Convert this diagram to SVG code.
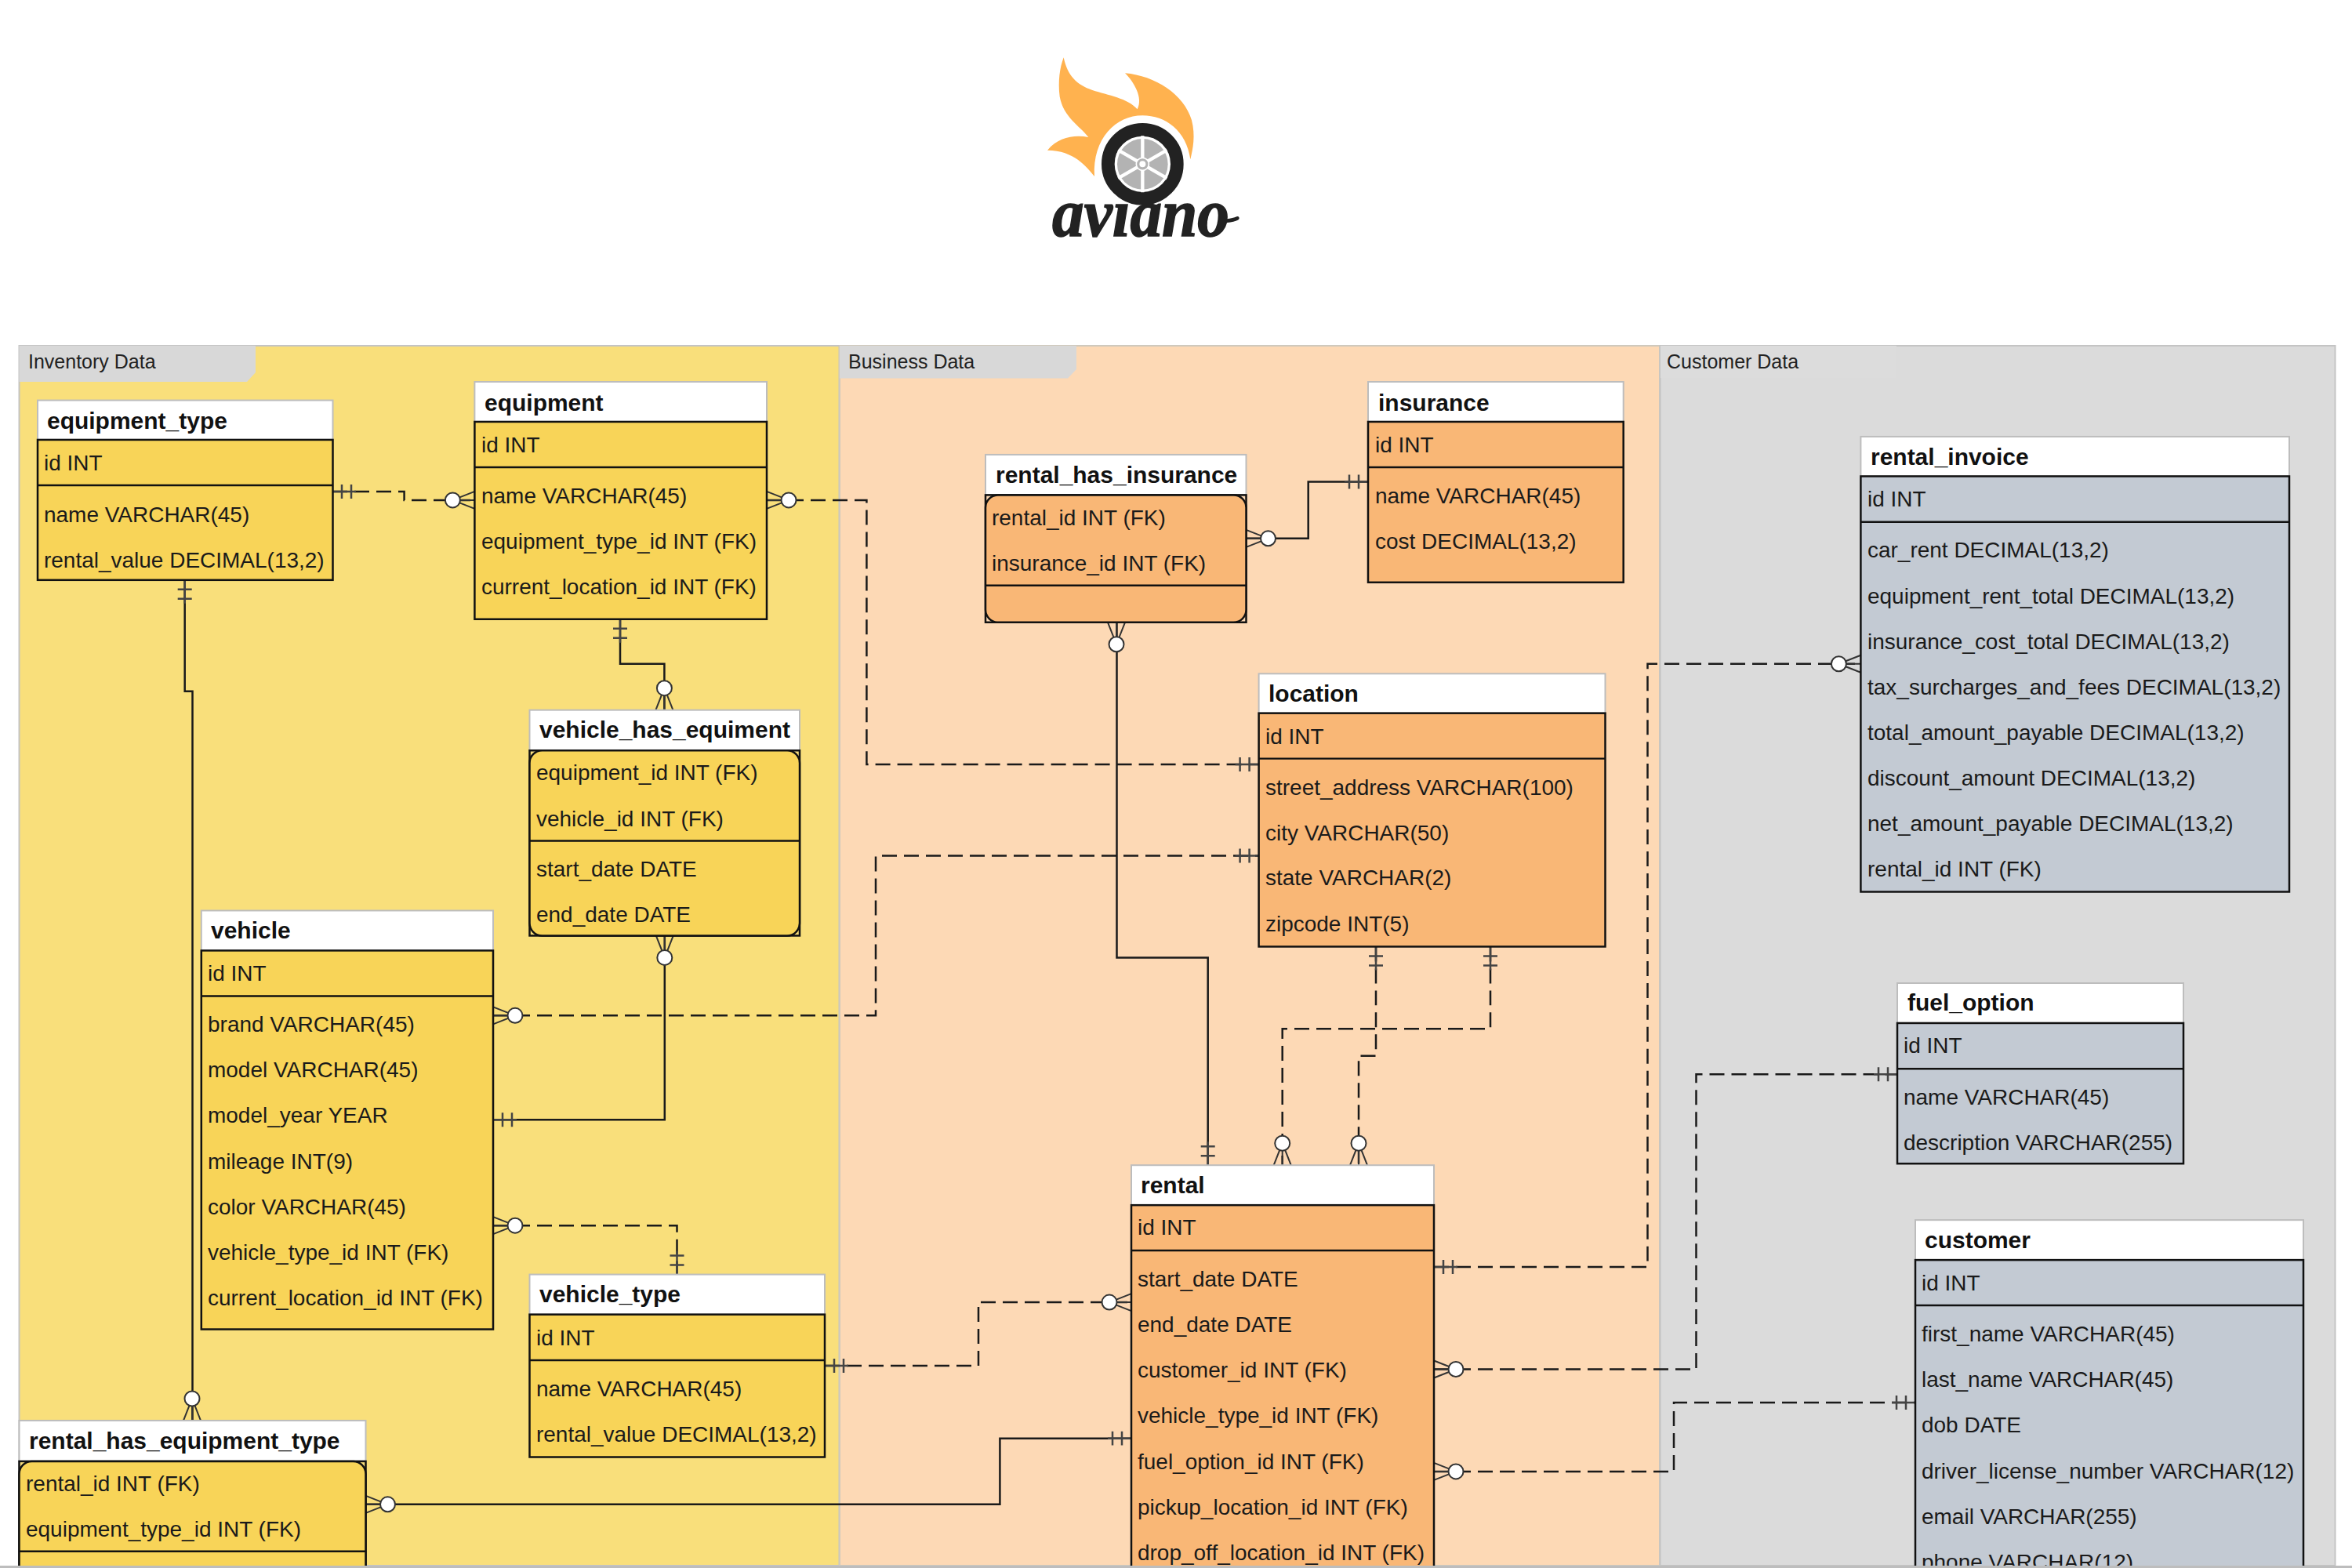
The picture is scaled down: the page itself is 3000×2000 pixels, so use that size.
<svg xmlns="http://www.w3.org/2000/svg" xmlns:xlink="http://www.w3.org/1999/xlink" width="3000" height="2000" viewBox="0 0 3000 2000">
<style>
text{font-family:"Liberation Sans",Arial,sans-serif;fill:#1a1a1a}
.lbl{font-size:25px;fill:#222}
.t{font-size:30px;font-weight:bold;fill:#111}
.r{font-size:28px}
.hd{fill:#fff;stroke:#bdbdbd;stroke-width:2}
.y{fill:#F8D458;stroke:#111;stroke-width:2.5}
.o{fill:#F9B776;stroke:#111;stroke-width:2.5}
.g{fill:#C3CAD3;stroke:#111;stroke-width:2.5}
.ln{stroke:#111;stroke-width:2.5;fill:none}
.s{fill:none;stroke:#1a1a1a;stroke-width:2.5}
.d{fill:none;stroke:#1a1a1a;stroke-width:2.5;stroke-dasharray:19 9}
</style>
<defs>
<g id="crow"><path d="M-28 0L0 -11M-28 0L0 11M-20 0H0" fill="none" stroke="#333" stroke-width="2"/><circle cx="-28" cy="0" r="9.5" fill="#fff" stroke="#333" stroke-width="2"/></g>
<g id="bar"><path d="M-12 -9V9M-24 -9V9M-30 0H0" fill="none" stroke="#444" stroke-width="2.5"/></g>
</defs>
<rect width="3000" height="2000" fill="#fff"/>
<g id="logo">
<text x="1342" y="301" font-size="86" font-style="italic" font-weight="bold" style="font-family:'Liberation Serif',serif;fill:#222;stroke:#222;stroke-width:1.5" textLength="226" lengthAdjust="spacingAndGlyphs">aviano</text>
<g transform="translate(1250 50) scale(.33333)">
<path d="M320 70C335 140 370 175 430 195C490 215 565 225 602 268C625 225 590 165 555 130C670 140 780 210 810 310C825 370 815 420 805 460C790 350 710 292 622 292C520 292 430 380 438 525C410 490 360 425 258 425C300 375 360 365 415 375C380 330 320 300 305 220C298 160 305 110 320 70Z" fill="#FFB24F"/>
<circle cx="622" cy="478" r="132" fill="#fff" stroke="#222" stroke-width="50"/>
<circle cx="622" cy="478" r="97" fill="#B3B3B3"/>
<path d="M622 370V586M528.5 424L715.5 532M528.5 532L715.5 424" stroke="#fff" stroke-width="13"/>
<circle cx="622" cy="478" r="24" fill="#B3B3B3" stroke="#fff" stroke-width="5"/>
<circle cx="622" cy="478" r="12" fill="#fff"/>
<path d="M945 695Q970 692 985 685" fill="none" stroke="#222" stroke-width="14" stroke-linecap="round"/>
</g>
</g>
<g id="panels">
<rect x="24.5" y="441" width="1046" height="1556" fill="#F9DF7B" stroke="#c4c4c4" stroke-width="2"/>
<rect x="1071" y="441" width="1046" height="1556" fill="#FDD9B5" stroke="#cfc9bd" stroke-width="2"/>
<rect x="2117.5" y="441" width="861" height="1556" fill="#DBDBDB" stroke="#c4c4c4" stroke-width="2"/>
<path d="M24.5 441H326V475L315 487H24.5Z" fill="#D8D8D8"/>
<path d="M1071 441H1373V471L1362 482.5H1071Z" fill="#D8D8D8"/>
<path d="M2118 441H2419V482H2118Z" fill="#DCDCDC"/>
<text class="lbl" x="36" y="470">Inventory Data</text>
<text class="lbl" x="1082" y="470">Business Data</text>
<text class="lbl" x="2126" y="470">Customer Data</text>
</g>
<g id="diagram" transform="translate(0 -0.6) scale(1 0.9992)">
<g id="connectors">
<path class="d" d="M424 628H515.6V639H605"/>
<path class="d" d="M978 639H1105.4V976.4H1605"/>
<path class="d" d="M629 1297H1117V1093H1605"/>
<path class="s" d="M791 791V848H847.4V907"/>
<path class="s" d="M847.8 1195V1430H629"/>
<path class="d" d="M629 1565H863.5V1627"/>
<path class="s" d="M235.7 741V883H245.5V1814"/>
<path class="s" d="M466.5 1921H1275.4V1836.7H1443"/>
<path class="d" d="M1052 1744H1248V1663H1443"/>
<path class="s" d="M1589.5 688H1668.7V615.7H1745"/>
<path class="s" d="M1424.5 795V1223H1540.7V1488"/>
<path class="d" d="M1755 1209V1348.5H1733V1488"/>
<path class="d" d="M1901 1209V1314H1635.7V1488"/>
<path class="d" d="M1829 1618H2101.5V848H2373"/>
<path class="d" d="M1829 1748.5H2163.5V1372H2420"/>
<path class="d" d="M1829 1879H2135V1791H2443"/>
<use xlink:href="#bar" href="#bar" transform="translate(424 628) rotate(180)"/>
<use xlink:href="#crow" href="#crow" transform="translate(605.4 639)"/>
<use xlink:href="#crow" href="#crow" transform="translate(978 639) rotate(180)"/>
<use xlink:href="#bar" href="#bar" transform="translate(1605.6 976.4)"/>
<use xlink:href="#crow" href="#crow" transform="translate(629 1297) rotate(180)"/>
<use xlink:href="#bar" href="#bar" transform="translate(1605.6 1093)"/>
<use xlink:href="#bar" href="#bar" transform="translate(791 791) rotate(-90)"/>
<use xlink:href="#crow" href="#crow" transform="translate(847.4 907) rotate(90)"/>
<use xlink:href="#crow" href="#crow" transform="translate(847.8 1195) rotate(-90)"/>
<use xlink:href="#bar" href="#bar" transform="translate(629 1430) rotate(180)"/>
<use xlink:href="#crow" href="#crow" transform="translate(629 1565) rotate(180)"/>
<use xlink:href="#bar" href="#bar" transform="translate(863.5 1627.5) rotate(90)"/>
<use xlink:href="#bar" href="#bar" transform="translate(235.7 741) rotate(-90)"/>
<use xlink:href="#crow" href="#crow" transform="translate(245 1814) rotate(90)"/>
<use xlink:href="#crow" href="#crow" transform="translate(466.5 1921) rotate(180)"/>
<use xlink:href="#bar" href="#bar" transform="translate(1443 1836.7)"/>
<use xlink:href="#bar" href="#bar" transform="translate(1052 1744) rotate(180)"/>
<use xlink:href="#crow" href="#crow" transform="translate(1443 1663)"/>
<use xlink:href="#crow" href="#crow" transform="translate(1589.5 688) rotate(180)"/>
<use xlink:href="#bar" href="#bar" transform="translate(1745 615.7)"/>
<use xlink:href="#crow" href="#crow" transform="translate(1424 795) rotate(-90)"/>
<use xlink:href="#bar" href="#bar" transform="translate(1540.7 1488) rotate(90)"/>
<use xlink:href="#bar" href="#bar" transform="translate(1755 1209) rotate(-90)"/>
<use xlink:href="#crow" href="#crow" transform="translate(1733 1488) rotate(90)"/>
<use xlink:href="#bar" href="#bar" transform="translate(1901 1209) rotate(-90)"/>
<use xlink:href="#crow" href="#crow" transform="translate(1635.7 1488) rotate(90)"/>
<use xlink:href="#bar" href="#bar" transform="translate(1829 1618) rotate(180)"/>
<use xlink:href="#crow" href="#crow" transform="translate(2373.4 848)"/>
<use xlink:href="#crow" href="#crow" transform="translate(1829 1748.5) rotate(180)"/>
<use xlink:href="#bar" href="#bar" transform="translate(2420 1372)"/>
<use xlink:href="#crow" href="#crow" transform="translate(1829 1879) rotate(180)"/>
<use xlink:href="#bar" href="#bar" transform="translate(2443 1791)"/>
</g>
<g id="equipment_type">
<rect class="hd" x="48" y="511.6" width="376.5" height="50.4"/>
<rect class="y" x="48" y="562" width="376.5" height="179"/>
<path class="ln" d="M48 620H424.5"/>
<text class="t" x="60" y="548">equipment_type</text>
<text class="r" x="56" y="601">id INT</text>
<text class="r" x="56" y="667">name VARCHAR(45)</text>
<text class="r" x="56" y="725">rental_value DECIMAL(13,2)</text>
</g>
<g id="equipment">
<rect class="hd" x="605.4" y="488" width="372.6" height="51"/>
<rect class="y" x="605.4" y="539" width="372.6" height="252"/>
<path class="ln" d="M605.4 597H978"/>
<text class="t" x="618" y="525">equipment</text>
<text class="r" x="614" y="578">id INT</text>
<text class="r" x="614" y="643">name VARCHAR(45)</text>
<text class="r" x="614" y="701">equipment_type_id INT (FK)</text>
<text class="r" x="614" y="759">current_location_id INT (FK)</text>
</g>
<g id="vehicle_has_equiment">
<rect class="hd" x="675.5" y="907" width="344.5" height="51.6"/>
<rect class="ln" x="675.5" y="958.6" width="344.5" height="236.4" fill="none"/>
<rect class="y" x="675.5" y="958.6" width="344.5" height="236.4" rx="16"/>
<path class="ln" d="M675.5 1074H1020"/>
<text class="t" x="688" y="942">vehicle_has_equiment</text>
<text class="r" x="684" y="996">equipment_id INT (FK)</text>
<text class="r" x="684" y="1055">vehicle_id INT (FK)</text>
<text class="r" x="684" y="1120">start_date DATE</text>
<text class="r" x="684" y="1178">end_date DATE</text>
</g>
<g id="vehicle">
<rect class="hd" x="256.8" y="1163" width="372.2" height="51"/>
<rect class="y" x="256.8" y="1214" width="372.2" height="483.5"/>
<path class="ln" d="M256.8 1272H629"/>
<text class="t" x="269" y="1199">vehicle</text>
<text class="r" x="265" y="1253">id INT</text>
<text class="r" x="265" y="1318">brand VARCHAR(45)</text>
<text class="r" x="265" y="1376">model VARCHAR(45)</text>
<text class="r" x="265" y="1434">model_year YEAR</text>
<text class="r" x="265" y="1493">mileage INT(9)</text>
<text class="r" x="265" y="1551">color VARCHAR(45)</text>
<text class="r" x="265" y="1609">vehicle_type_id INT (FK)</text>
<text class="r" x="265" y="1667">current_location_id INT (FK)</text>
</g>
<g id="vehicle_type">
<rect class="hd" x="675.5" y="1627.5" width="376.5" height="51"/>
<rect class="y" x="675.5" y="1678.6" width="376.5" height="182"/>
<path class="ln" d="M675.5 1737H1052"/>
<text class="t" x="688" y="1663">vehicle_type</text>
<text class="r" x="684" y="1718">id INT</text>
<text class="r" x="684" y="1783">name VARCHAR(45)</text>
<text class="r" x="684" y="1841">rental_value DECIMAL(13,2)</text>
</g>
<g id="rental_has_equipment_type">
<rect class="hd" x="24.5" y="1814" width="442" height="52"/>
<rect class="ln" x="24.5" y="1866" width="442" height="180" fill="none"/>
<rect class="y" x="24.5" y="1866" width="442" height="180" rx="16"/>
<path class="ln" d="M24.5 1981H466.5"/>
<text class="t" x="37" y="1850">rental_has_equipment_type</text>
<text class="r" x="33" y="1904">rental_id INT (FK)</text>
<text class="r" x="33" y="1962">equipment_type_id INT (FK)</text>
</g>
<g id="rental_has_insurance">
<rect class="hd" x="1257" y="581" width="332.5" height="51.5"/>
<rect class="ln" x="1257" y="632.5" width="332.5" height="162.5" fill="none"/>
<rect class="o" x="1257" y="632.5" width="332.5" height="162.5" rx="16"/>
<path class="ln" d="M1257 748H1589.5"/>
<text class="t" x="1270" y="617">rental_has_insurance</text>
<text class="r" x="1265" y="671">rental_id INT (FK)</text>
<text class="r" x="1265" y="729">insurance_id INT (FK)</text>
</g>
<g id="insurance">
<rect class="hd" x="1745" y="488" width="325.7" height="51"/>
<rect class="o" x="1745" y="539" width="325.7" height="205"/>
<path class="ln" d="M1745 597H2070.7"/>
<text class="t" x="1758" y="525">insurance</text>
<text class="r" x="1754" y="578">id INT</text>
<text class="r" x="1754" y="643">name VARCHAR(45)</text>
<text class="r" x="1754" y="701">cost DECIMAL(13,2)</text>
</g>
<g id="location">
<rect class="hd" x="1605.6" y="860.6" width="441.9" height="50.4"/>
<rect class="o" x="1605.6" y="911" width="441.9" height="298"/>
<path class="ln" d="M1605.6 969H2047.5"/>
<text class="t" x="1618" y="896">location</text>
<text class="r" x="1614" y="950">id INT</text>
<text class="r" x="1614" y="1015">street_address VARCHAR(100)</text>
<text class="r" x="1614" y="1073">city VARCHAR(50)</text>
<text class="r" x="1614" y="1131">state VARCHAR(2)</text>
<text class="r" x="1614" y="1190">zipcode INT(5)</text>
</g>
<g id="rental">
<rect class="hd" x="1443" y="1488" width="386" height="51"/>
<rect class="o" x="1443" y="1539" width="386" height="520"/>
<path class="ln" d="M1443 1597H1829"/>
<text class="t" x="1455" y="1524">rental</text>
<text class="r" x="1451" y="1577">id INT</text>
<text class="r" x="1451" y="1643">start_date DATE</text>
<text class="r" x="1451" y="1701">end_date DATE</text>
<text class="r" x="1451" y="1759">customer_id INT (FK)</text>
<text class="r" x="1451" y="1817">vehicle_type_id INT (FK)</text>
<text class="r" x="1451" y="1876">fuel_option_id INT (FK)</text>
<text class="r" x="1451" y="1934">pickup_location_id INT (FK)</text>
<text class="r" x="1451" y="1992">drop_off_location_id INT (FK)</text>
</g>
<g id="rental_invoice">
<rect class="hd" x="2373.4" y="558" width="546.6" height="50.6"/>
<rect class="g" x="2373.4" y="608.6" width="546.6" height="530.4"/>
<path class="ln" d="M2373.4 667H2920"/>
<text class="t" x="2386" y="594">rental_invoice</text>
<text class="r" x="2382" y="647">id INT</text>
<text class="r" x="2382" y="712">car_rent DECIMAL(13,2)</text>
<text class="r" x="2382" y="771">equipment_rent_total DECIMAL(13,2)</text>
<text class="r" x="2382" y="829">insurance_cost_total DECIMAL(13,2)</text>
<text class="r" x="2382" y="887">tax_surcharges_and_fees DECIMAL(13,2)</text>
<text class="r" x="2382" y="945">total_amount_payable DECIMAL(13,2)</text>
<text class="r" x="2382" y="1003">discount_amount DECIMAL(13,2)</text>
<text class="r" x="2382" y="1061">net_amount_payable DECIMAL(13,2)</text>
<text class="r" x="2382" y="1120">rental_id INT (FK)</text>
</g>
<g id="fuel_option">
<rect class="hd" x="2420" y="1255.6" width="365" height="51"/>
<rect class="g" x="2420" y="1306.6" width="365" height="179.4"/>
<path class="ln" d="M2420 1365H2785"/>
<text class="t" x="2433" y="1291">fuel_option</text>
<text class="r" x="2428" y="1345">id INT</text>
<text class="r" x="2428" y="1410.5">name VARCHAR(45)</text>
<text class="r" x="2428" y="1469">description VARCHAR(255)</text>
</g>
<g id="customer">
<rect class="hd" x="2443" y="1558" width="495" height="51"/>
<rect class="g" x="2443" y="1609" width="495" height="450"/>
<path class="ln" d="M2443 1667H2938"/>
<text class="t" x="2455" y="1594">customer</text>
<text class="r" x="2451" y="1648">id INT</text>
<text class="r" x="2451" y="1713">first_name VARCHAR(45)</text>
<text class="r" x="2451" y="1771">last_name VARCHAR(45)</text>
<text class="r" x="2451" y="1829">dob DATE</text>
<text class="r" x="2451" y="1888">driver_license_number VARCHAR(12)</text>
<text class="r" x="2451" y="1946">email VARCHAR(255)</text>
<text class="r" x="2451" y="2004">phone VARCHAR(12)</text>
</g>
</g>
<rect id="bottom-strip" x="0" y="1997" width="3000" height="3" fill="#BDBDBD"/>
</svg>
